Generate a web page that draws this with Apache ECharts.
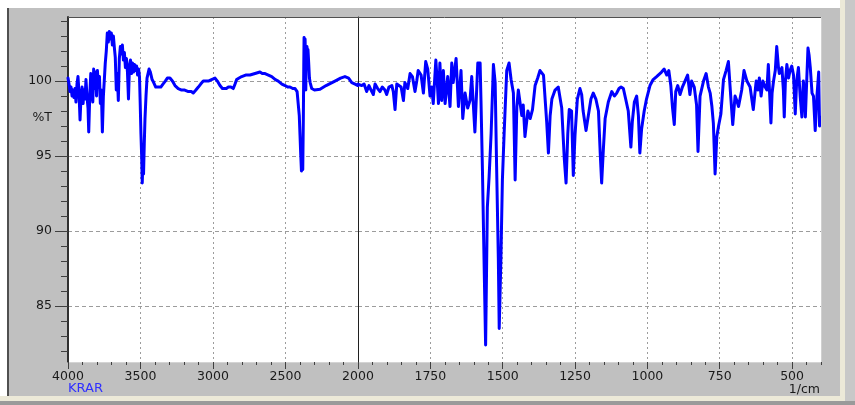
<!DOCTYPE html>
<html><head><meta charset="utf-8">
<script src="https://cdn.jsdelivr.net/npm/echarts@6/dist/echarts.min.js"></script>
<style>
html,body{margin:0;padding:0;background:#fff;width:855px;height:405px;overflow:hidden;}
#frame{position:absolute;left:7px;top:8px;width:833px;height:388px;background:#c0c0c0;border-left:2px solid #505050;box-sizing:border-box;}
#rstrip{position:absolute;left:840px;top:0;width:5px;height:405px;background:#ece9d8;}
#rstrip2{position:absolute;left:845px;top:0;width:10px;height:405px;background:#c8c8c8;}
#bstrip{position:absolute;left:0;top:396px;width:845px;height:5px;background:#ece9d8;}
#bline{position:absolute;left:0;top:401px;width:855px;height:4px;background:#9a9a9a;}
#chart{position:absolute;left:0;top:0;width:855px;height:405px;}
</style></head><body>
<div id="frame"></div>
<div id="rstrip"></div>
<div id="rstrip2"></div>
<div id="bstrip"></div>
<div id="bline"></div>
<div id="chart"></div>
<script>
// 4000-2000 cm-1 part of the spectrum
const wnHigh = [4000,3993,3986,3979,3972,3966,3959,3952,3945,3938,3931,3924,3917,3910,3903,3896,3890,3883,3876,3869,3862,3857,3850,3843,3836,3829,3823,3816,3810,3803,3797,3790,3783,3777,3770,3763,3756,3750,3743,3736,3729,3722,3715,3708,3701,3694,3687,3680,3674,3667,3660,3653,3646,3639,3632,3625,3618,3611,3604,3597,3590,3583,3576,3569,3562,3555,3548,3541,3534,3527,3520,3513,3507,3502,3497,3492,3488,3484,3479,3474,3469,3462,3455,3448,3441,3432,3420,3409,3395,3385,3374,3360,3345,3329,3315,3297,3280,3262,3240,3216,3195,3170,3150,3136,3118,3101,3085,3067,3050,3032,3010,2986,2970,2952,2935,2922,2908,2894,2877,2860,2848,2837,2820,2802,2775,2745,2710,2676,2660,2641,2618,2595,2570,2550,2525,2503,2485,2469,2450,2434,2420,2412,2405,2400,2395,2390,2386,2381,2377,2374,2372,2368,2365,2362,2360,2357,2352,2348,2345,2340,2335,2330,2319,2300,2262,2220,2159,2120,2090,2065,2043,2020,2000];
const tHigh = [100.2,99.8,99.3,99.6,99.0,99.4,98.9,99.5,98.6,99.8,100.3,99.2,97.4,99.0,99.6,98.5,99.4,98.8,100.1,99.0,98.2,96.6,99.0,100.5,99.3,98.6,100.8,99.5,100.6,99.0,100.7,99.6,100.3,98.5,99.4,96.6,99.0,100.0,101.2,102.0,103.2,102.6,103.3,102.8,103.2,102.4,103.0,102.2,101.6,99.4,100.5,98.7,101.5,102.3,101.8,102.4,101.4,101.9,100.9,101.5,100.6,98.8,101.0,101.4,100.5,101.2,100.6,101.1,100.7,101.0,100.4,100.8,100.3,98.5,96.5,95.0,93.2,94.5,93.8,95.8,97.5,99.0,100.2,100.5,100.8,100.6,100.1,99.9,99.6,99.5,99.6,99.6,99.8,100.0,100.2,100.2,100.0,99.7,99.5,99.4,99.4,99.3,99.3,99.2,99.4,99.6,99.8,100.0,100.0,100.0,100.1,100.2,100.0,99.7,99.5,99.4,99.5,99.6,99.6,99.5,99.8,100.1,100.2,100.3,100.4,100.4,100.5,100.6,100.5,100.5,100.4,100.3,100.1,100.0,99.8,99.7,99.6,99.6,99.5,99.5,99.3,99.2,97.7,96.4,95.1,94.0,94.3,94.1,97.5,101.0,102.9,102.6,102.8,101.5,99.4,102.0,102.3,101.8,102.1,101.2,100.2,99.9,99.5,99.4,99.45,99.7,100.0,100.2,100.3,100.2,99.9,99.8,99.7];
// 2000-400 cm-1 part of the spectrum
const wnLow = [2000,1987,1979,1970,1962,1955,1947,1941,1932,1924,1916,1907,1901,1893,1883,1878,1872,1866,1861,1851,1843,1838,1828,1820,1812,1803,1797,1792,1782,1774,1766,1759,1751,1745,1740,1731,1726,1722,1717,1711,1705,1699,1690,1682,1676,1671,1661,1653,1644,1638,1630,1621,1613,1607,1601,1596,1586,1578,1575,1570,1564,1559,1553,1547,1540,1532,1526,1521,1515,1512,1506,1501,1495,1486,1478,1471,1463,1457,1451,1446,1440,1434,1429,1423,1413,1405,1397,1388,1379,1371,1359,1348,1342,1336,1330,1319,1308,1296,1287,1281,1275,1270,1262,1256,1250,1242,1233,1227,1222,1212,1204,1195,1187,1178,1169,1163,1158,1152,1146,1135,1123,1114,1106,1098,1091,1083,1075,1066,1057,1052,1045,1037,1031,1026,1020,1011,1003,991,980,968,951,942,933,926,919,913,907,902,895,887,879,870,861,853,847,838,830,825,818,806,797,789,783,777,772,766,760,754,746,737,728,720,712,705,697,691,685,674,666,656,645,634,624,618,613,607,601,593,587,582,573,569,564,558,553,547,544,535,530,527,523,518,512,507,501,495,489,484,478,472,466,461,458,454,449,445,441,437,431,426,420,414,408,405,402];
const tLow = [99.8,99.7,99.8,99.3,99.7,99.4,99.1,99.8,99.5,99.3,99.6,99.4,99.1,99.6,99.7,99.3,98.1,99.8,99.9,99.6,98.7,99.9,99.5,100.5,100.3,99.3,100.0,100.7,100.4,99.2,101.3,100.8,99.0,99.6,98.5,101.4,99.9,98.5,101.2,98.7,100.7,98.5,100.3,98.3,101.2,99.9,101.5,98.3,100.7,97.5,99.2,98.2,98.7,100.3,100.4,96.6,101.2,101.2,98.7,94.1,87.6,82.4,91.6,93.6,96.5,101.1,99.9,94.3,88.1,83.5,88.3,93.4,96.5,100.7,101.2,100.1,99.2,93.4,98.3,99.4,99.5,97.7,98.4,96.3,98.0,97.5,98.1,99.7,100.2,100.7,100.4,97.3,95.2,97.7,98.8,99.4,99.6,98.2,94.8,93.2,96.5,98.1,98.0,93.7,96.4,98.8,99.5,99.1,98.0,96.7,97.7,98.8,99.2,98.8,98.0,95.2,93.2,95.5,97.5,98.6,99.3,99.0,99.2,99.5,99.6,99.5,98.8,98.0,95.6,97.3,98.6,99.0,97.7,95.2,96.8,98.0,98.8,99.7,100.1,100.3,100.6,100.8,100.4,100.7,99.7,98.2,97.1,99.3,99.7,99.1,99.6,100.0,100.4,99.1,100.0,99.6,98.4,95.3,99.0,100.0,100.5,99.6,99.2,98.3,97.2,93.8,96.3,97.0,97.8,100.1,100.7,101.3,99.0,97.1,99.0,98.7,98.3,99.4,100.7,100.0,99.6,98.1,100.0,99.4,100.2,99.0,100.0,99.6,99.4,101.1,97.2,99.2,100.0,100.7,102.3,100.9,100.5,100.9,99.4,97.6,100.0,101.1,100.2,100.7,101.0,100.4,97.8,100.0,100.9,99.0,97.6,100.0,99.4,97.6,100.2,102.2,101.7,100.9,99.2,99.0,96.7,99.0,100.6,97.0,97.6];
// axis labels
const xLabelsHigh = [4000, 3500, 3000, 2500, 2000];
const xLabelsLow = [1750, 1500, 1250, 1000, 750, 500];
const yLabels = [85, 90, 95, 100];
const yMin = 81.27, yMax = 104.27;

const highData = wnHigh.map((w, i) => [w, tHigh[i]]);
const lowData = wnLow.map((w, i) => [w, tLow[i]]);

const FONT = 'DejaVu Sans';
const LBL = '#1a1a1a';
const TICK = '#404040';
const GRIDC = '#9c9c9c';
const plain = v => String(Math.round(v));

const chart = echarts.init(document.getElementById('chart'), null, {renderer: 'canvas'});
const lineSeries = (xi, data) => ({
  type: 'line', xAxisIndex: xi, yAxisIndex: xi === 0 ? 0 : 1, data,
  showSymbol: false, symbol: 'none', clip: true, silent: true,
  lineStyle: {color: '#0000ff', width: 3, join: 'round', cap: 'round'}
});
chart.setOption({
  animation: false,
  backgroundColor: 'transparent',
  grid: [
    {left: 68, top: 17, width: 290, height: 345, show: true, backgroundColor: '#ffffff', borderWidth: 0},
    {left: 358, top: 17, width: 463, height: 345, show: true, backgroundColor: '#ffffff', borderWidth: 0}
  ],
  xAxis: [
    {gridIndex: 0, type: 'value', position: 'bottom', min: 2000, max: 4000, interval: 500, inverse: true,
     axisLine: {show: true, lineStyle: {color: '#d4d4d4', width: 1}},
     axisTick: {show: true, length: 7, lineStyle: {color: TICK}},
     minorTick: {show: true, splitNumber: 5, length: 3, lineStyle: {color: TICK}},
     axisLabel: {show: true, margin: 8, color: LBL, fontFamily: FONT, fontSize: 12.5, formatter: plain, customValues: xLabelsHigh},
     splitLine: {show: true, lineStyle: {color: GRIDC, width: 1, type: [2, 3]}}},
    {gridIndex: 1, type: 'value', position: 'bottom', min: 400, max: 2000, inverse: true,
     axisLine: {show: true, lineStyle: {color: '#d4d4d4', width: 1}},
     axisTick: {show: true, length: 7, lineStyle: {color: TICK}, customValues: xLabelsLow},
     minorTick: {show: false},
     axisLabel: {show: true, margin: 8, color: LBL, fontFamily: FONT, fontSize: 12.5, formatter: plain, customValues: xLabelsLow},
     splitLine: {show: true, lineStyle: {color: GRIDC, width: 1, type: [2, 3]}}},
    {gridIndex: 1, type: 'value', position: 'bottom', min: 400, max: 2000, interval: 50, inverse: true,
     axisLine: {show: false},
     axisTick: {show: true, length: 3, lineStyle: {color: TICK}},
     axisLabel: {show: false}, splitLine: {show: false}}
  ],
  yAxis: [
    {gridIndex: 0, type: 'value', position: 'left', min: yMin, max: yMax, splitNumber: 5,
     axisLine: {show: true, lineStyle: {color: '#303030', width: 2}},
     axisTick: {show: true, length: 13, lineStyle: {color: TICK}, customValues: yLabels},
     minorTick: {show: true, splitNumber: 5, length: 7, lineStyle: {color: TICK}},
     axisLabel: {show: true, margin: 16, color: LBL, fontFamily: FONT, fontSize: 12.5, formatter: plain, customValues: yLabels},
     splitLine: {show: true, lineStyle: {color: GRIDC, width: 1, type: [4, 3]}}},
    {gridIndex: 1, type: 'value', position: 'left', min: yMin, max: yMax, splitNumber: 5,
     axisLine: {show: true, lineStyle: {color: '#202020', width: 1}},
     axisTick: {show: false, customValues: yLabels},
     axisLabel: {show: false, customValues: yLabels},
     splitLine: {show: true, lineStyle: {color: GRIDC, width: 1, type: [4, 3]}}}
  ],
  graphic: [
    {type: 'line', shape: {x1: 68, y1: 17.5, x2: 821, y2: 17.5}, style: {stroke: '#505050', lineWidth: 1}, z: 10},
    {type: 'line', shape: {x1: 821.5, y1: 17, x2: 821.5, y2: 362}, style: {stroke: '#d0d0d0', lineWidth: 1}, z: 10},
    {type: 'text', x: 52, y: 118, style: {text: '%T', align: 'right', textAlign: 'right', verticalAlign: 'middle', textVerticalAlign: 'middle', fontFamily: FONT, fontSize: 12.5, fill: LBL}, z: 10},
    {type: 'text', x: 68, y: 388.5, style: {text: 'KRAR', align: 'left', textAlign: 'left', verticalAlign: 'middle', textVerticalAlign: 'middle', fontFamily: FONT, fontSize: 13, fill: '#3030ff'}, z: 10},
    {type: 'text', x: 820, y: 390, style: {text: '1/cm', align: 'right', textAlign: 'right', verticalAlign: 'middle', textVerticalAlign: 'middle', fontFamily: FONT, fontSize: 12.5, fill: LBL}, z: 10}
  ],
  series: [lineSeries(0, highData), lineSeries(1, lowData)]
});
</script>
</body></html>
